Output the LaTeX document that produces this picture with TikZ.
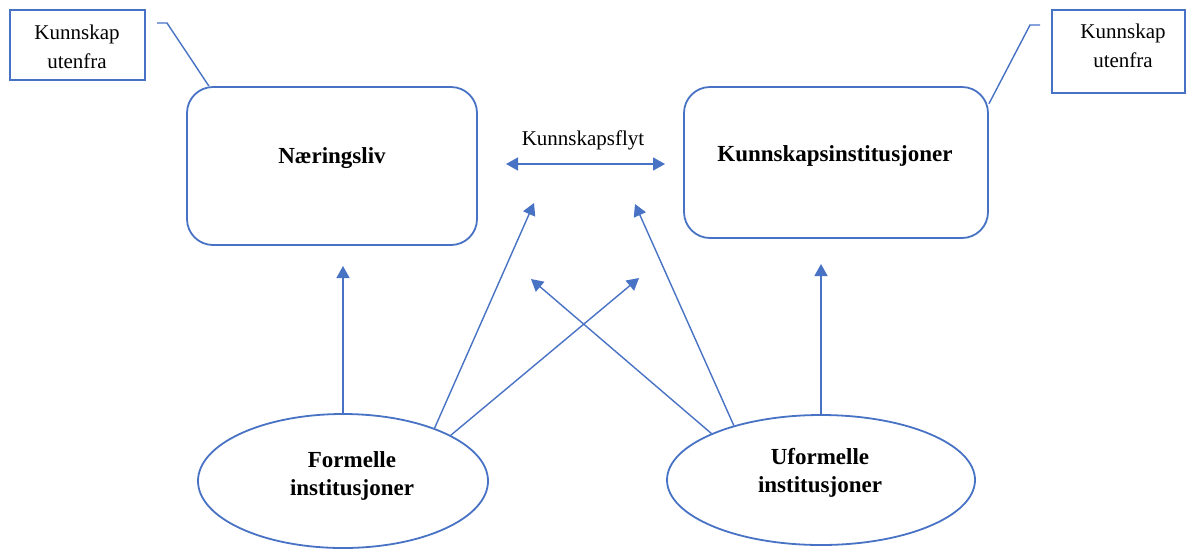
\documentclass[tikz,border=0pt]{standalone}
\usepackage{fontspec}
\setmainfont{Liberation Serif}
\usetikzlibrary{arrows.meta,shapes.geometric}
\definecolor{lineblue}{RGB}{72,114,196}
\tikzset{
  tip/.tip={Triangle[length=12pt,width=13pt]},
  roundbox/.style={draw=lineblue, line width=1.8pt, rounded corners=26pt, inner sep=0pt},
  notebox/.style={draw=lineblue, line width=1.6pt, inner sep=0pt},
  oval/.style={draw=lineblue, line width=1.8pt, ellipse, inner sep=0pt},
  flow/.style={draw=lineblue, line width=1.4pt, -tip},
  link/.style={draw=lineblue, line width=1.4pt},
  bigtext/.style={font=\fontsize{23}{28}\selectfont\bfseries, align=center},
  smalltext/.style={font=\fontsize{21}{29}\selectfont, align=center},
}
\begin{document}
\begin{tikzpicture}[x=1pt, y=-1pt]
\useasboundingbox (0,0) rectangle (1188,550);

% main boxes
\node[roundbox, minimum width=290pt, minimum height=158pt] (N) at (332,166) {};
\node[bigtext] (Nt) at (332,158) {Næringsliv};
\node[roundbox, minimum width=304pt, minimum height=151pt] (K) at (836,162.5) {};
\node[bigtext] (Kt) at (835,156) {Kunnskapsinstitusjoner};

% external-knowledge notes
\node[notebox, minimum width=135pt, minimum height=70pt] (U1) at (77.5,45) {};
\node[smalltext] (U1t) at (77,47) {Kunnskap\\utenfra};
\node[notebox, minimum width=133pt, minimum height=83pt] (U2) at (1118.5,51.5) {};
\node[smalltext] (U2t) at (1123,46) {Kunnskap\\utenfra};

% callout leaders
\coordinate (L1a) at (167,23);
\coordinate (L1b) at (157,23);
\draw[link] (N.147.7) -- (L1a) -- (L1b);
\coordinate (L2a) at (1030,25);
\coordinate (L2b) at (1040,25);
\draw[link] (K.21.8) -- (L2a) -- (L2b);

% knowledge flow
\coordinate (FL) at (506,164);
\coordinate (FR) at (665,164);
\node[smalltext] (flowlabel) at (583,140) {Kunnskapsflyt};
\draw[link, tip-tip] (FL) -- (FR);

% institutions
\node[oval, minimum width=290pt, minimum height=134pt] (F) at (343,481) {};
\node[bigtext] (Ft) at (352,476) {Formelle\\institusjoner};
\node[oval, minimum width=308pt, minimum height=130pt] (UF) at (821,480) {};
\node[bigtext] (UFt) at (820,473) {Uformelle\\institusjoner};

% arrow targets
\coordinate (T1) at (343,266);
\coordinate (T2) at (821,264);
\coordinate (T3) at (534,203);
\coordinate (T4) at (639,278);
\coordinate (T5) at (531,279);
\coordinate (T6) at (635,204);

\draw[flow] (F.north) -- (T1);
\draw[flow] (UF.north) -- (T2);
\draw[flow] (F.30.8) -- (T3);
\draw[flow] (F.23) -- (T4);
\draw[flow] (UF.157.6) -- (T5);
\draw[flow] (UF.148) -- (T6);
\end{tikzpicture}
\end{document}
